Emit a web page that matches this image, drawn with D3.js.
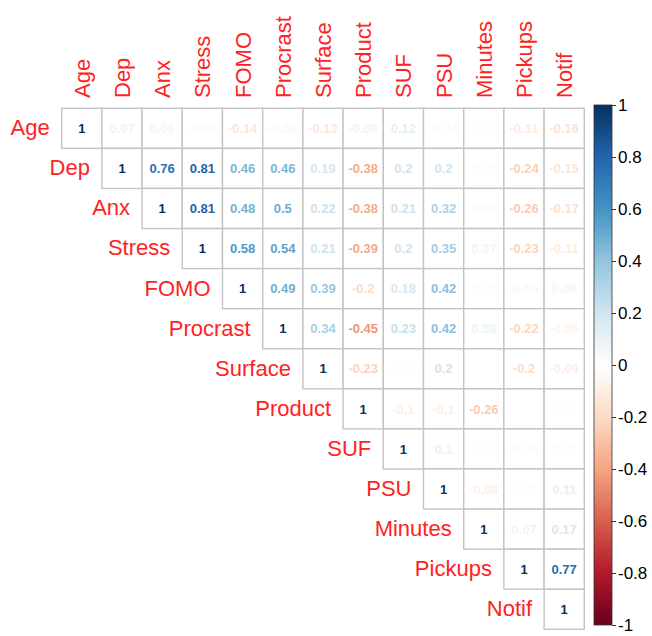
<!DOCTYPE html>
<html>
<head>
<meta charset="utf-8">
<style>
body { margin: 0; background: #fff; }
text { font-family: "Liberation Sans", Arial, sans-serif; }
</style>
<script src="https://cdn.jsdelivr.net/npm/d3@7"></script>
</head>
<body>
<svg id="chart" width="652" height="636"></svg>
<script>

var vars = ["Age","Dep","Anx","Stress","FOMO","Procrast","Surface","Product","SUF","PSU","Minutes","Pickups","Notif"];

// upper triangle rows, starting at the diagonal
var rAge      = [1, 0.07, 0.06, -0.04, -0.14, -0.05, -0.13, -0.08, 0.12, -0.04, -0.01, -0.11, -0.16];
var rDep      = [1, 0.76, 0.81, 0.46, 0.46, 0.19, -0.38, 0.2, 0.2, 0.02, -0.24, -0.15];
var rAnx      = [1, 0.81, 0.48, 0.5, 0.22, -0.38, 0.21, 0.32, 0.03, -0.26, -0.17];
var rStress   = [1, 0.58, 0.54, 0.21, -0.39, 0.2, 0.35, 0.07, -0.23, -0.11];
var rFOMO     = [1, 0.49, 0.39, -0.2, 0.18, 0.42, 0.02, -0.05, 0.06];
var rProcrast = [1, 0.34, -0.45, 0.23, 0.42, 0.08, -0.22, -0.06];
var rSurface  = [1, -0.23, -0.01, 0.2, 0, -0.2, -0.09];
var rProduct  = [1, -0.1, -0.1, -0.26, 0, -0.01];
var rSUF      = [1, 0.1, 0.01, -0.04, 0.02];
var rPSU      = [1, -0.08, 0.02, 0.11];
var rMinutes  = [1, 0.07, 0.17];
var rPickups  = [1, 0.77];
var rNotif    = [1];

var rows = [rAge,rDep,rAnx,rStress,rFOMO,rProcrast,rSurface,rProduct,rSUF,rPSU,rMinutes,rPickups,rNotif];

var legendTicks = [1, 0.8, 0.6, 0.4, 0.2, 0, -0.2, -0.4, -0.6, -0.8, -1];

var palette = ["#67001F","#B2182B","#D6604D","#F4A582","#FDDBC7","#FFFFFF","#D1E5F0","#92C5DE","#4393C3","#2166AC","#053061"];

var svg = d3.select("#chart");

var x = d3.scaleBand().domain(vars).range([61.7, 584.3]),
    y = d3.scaleBand().domain(vars).range([108.3, 629.3]),
    col = d3.scaleLinear()
            .domain(d3.range(palette.length).map(function(i){ return -1 + 2*i/(palette.length-1); }))
            .range(palette)
            .interpolate(d3.interpolateRgb);

var cells = [];
rows.forEach(function(r, i){
  r.forEach(function(v, k){
    cells.push({row: vars[i], col: vars[i+k], v: v});
  });
});

svg.append("g").selectAll("rect")
  .data(cells)
  .enter().append("rect")
  .attr("x", function(d){ return x(d.col); })
  .attr("y", function(d){ return y(d.row); })
  .attr("width", x.bandwidth())
  .attr("height", y.bandwidth())
  .attr("fill", "#fff")
  .attr("stroke", "#c4c4c4")
  .attr("stroke-width", 1.4);

svg.append("g").selectAll("text")
  .data(cells)
  .enter().append("text")
  .attr("x", function(d){ return x(d.col) + x.bandwidth()/2; })
  .attr("y", function(d){ return y(d.row) + y.bandwidth()/2; })
  .attr("dy", "0.36em")
  .attr("text-anchor", "middle")
  .attr("font-size", 13)
  .attr("font-weight", "bold")
  .attr("fill", function(d){ return col(d.v); })
  .text(function(d){ return String(d.v); });

// column labels
svg.append("g").selectAll("text")
  .data(vars)
  .enter().append("text")
  .attr("transform", function(d){ return "translate(" + (x(d) + x.bandwidth()/2 + 8) + ",98) rotate(-90)"; })
  .attr("font-size", 22)
  .attr("fill", "#f22")
  .text(function(d){ return d; });

// row labels, next to the diagonal
svg.append("g").selectAll("text")
  .data(vars)
  .enter().append("text")
  .attr("x", function(d){ return x(d) - 12; })
  .attr("y", function(d){ return y(d) + y.bandwidth()/2 - 1; })
  .attr("dy", "0.36em")
  .attr("text-anchor", "end")
  .attr("font-size", 22)
  .attr("fill", "#f22")
  .text(function(d){ return d; });

// colour legend
var ly = d3.scaleLinear().domain([1, -1]).range([105, 625]);
var grad = svg.append("defs").append("linearGradient")
  .attr("id", "cbar").attr("x1", 0).attr("x2", 0).attr("y1", 0).attr("y2", 1);
palette.slice().reverse().forEach(function(c, i){
  grad.append("stop").attr("offset", i/(palette.length-1)).attr("stop-color", c);
});
svg.append("rect")
  .attr("x", 594).attr("y", ly(1))
  .attr("width", 18).attr("height", ly(-1) - ly(1))
  .attr("fill", "url(#cbar)")
  .attr("stroke", "#333").attr("stroke-width", 0.8);

var axis = svg.append("g")
  .attr("transform", "translate(612,0)")
  .call(d3.axisRight(ly).tickValues(legendTicks).tickSize(4).tickPadding(2).tickFormat(function(d){ return String(d); }));
axis.select(".domain").remove();
axis.selectAll("text").attr("font-size", 17).attr("font-family", "Liberation Sans, Arial, sans-serif").attr("fill", "#000");
axis.selectAll("line").attr("stroke", "#333");

</script>
</body>
</html>
